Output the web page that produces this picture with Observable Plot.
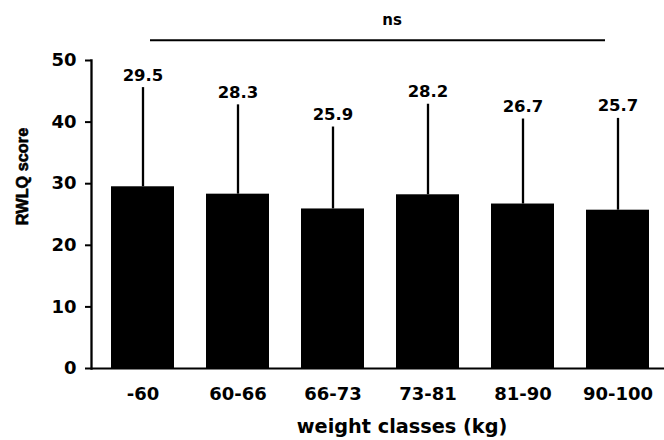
<!DOCTYPE html>
<html><head><meta charset="utf-8">
<script src="https://cdn.jsdelivr.net/npm/d3@7"></script>
<script src="https://cdn.jsdelivr.net/npm/@observablehq/plot@0.6"></script>
<style>body{margin:0;background:#fff}</style>
</head><body><div id="chart"></div>
<script>
const categories = ["-60", "60-66", "66-73", "73-81", "81-90", "90-100"];
const means = [29.5, 28.3, 25.9, 28.2, 26.7, 25.7];
const upper = [45.6, 42.8, 39.2, 42.9, 40.5, 40.6];
const yTicks = [0, 10, 20, 30, 40, 50];
const nsLevel = 53.3;
const nsLabel = "ns";
const xTitle = "weight classes (kg)";
const yTitle = "RWLQ score";

const data = categories.map((c, i) => ({cat: c, mean: means[i], upper: upper[i]}));
const nsRow = [{from: categories[0], to: categories[categories.length - 1], level: nsLevel, label: nsLabel}];

const chart = Plot.plot({
  width: 664,
  height: 440,
  marginTop: 60,
  marginBottom: 72,
  marginLeft: 91,
  marginRight: 0,
  style: {fontFamily: "DejaVu Sans", fontWeight: "bold", fontSize: "18px", color: "#000", background: "#fff"},
  x: {domain: categories, range: [91, 670], paddingInner: 0.335, paddingOuter: 0.19, label: null},
  y: {domain: [0, 50], label: null},
  marks: [
    Plot.barY(data, {x: "cat", y: "mean", fill: "#000"}),
    Plot.ruleX(data, {x: "cat", y1: "mean", y2: "upper", stroke: "#000", strokeWidth: 2.3}),
    Plot.text(data, {x: "cat", y: "upper", text: d => d.mean.toFixed(1), dy: -7, lineAnchor: "bottom", fontSize: 16.5, fill: "#000"}),
    Plot.ruleY([0], {stroke: "#000", strokeWidth: 2}),
    Plot.frame({anchor: "left", stroke: "#000", strokeWidth: 2.3}),
    Plot.axisY({ticks: yTicks, tickSize: 6, tickPadding: 9, strokeWidth: 2, label: null}),
    Plot.axisX({tickSize: 0, tickPadding: 19, label: null}),
    Plot.ruleY(nsRow, {x1: "from", x2: "to", y: "level", stroke: "#000", strokeWidth: 2, insetLeft: 39, insetRight: 44}),
    Plot.text(nsRow, {y: "level", text: "label", frameAnchor: "middle", dx: 14, dy: -15, lineAnchor: "bottom", fontSize: 15, fill: "#000"}),
    Plot.text([xTitle], {frameAnchor: "bottom", text: d => d, dx: 24, dy: 64, lineAnchor: "bottom", fontSize: 19.3, fill: "#000"}),
    Plot.text([yTitle], {frameAnchor: "left", text: d => d, rotate: -90, dx: -69, dy: -38, textAnchor: "middle", lineAnchor: "middle", fontSize: 16.3, fontFamily: "Liberation Sans", fill: "#000", stroke: "#000", strokeWidth: 0.6})
  ]
});
document.getElementById("chart").appendChild(chart);
</script>
</body></html>
